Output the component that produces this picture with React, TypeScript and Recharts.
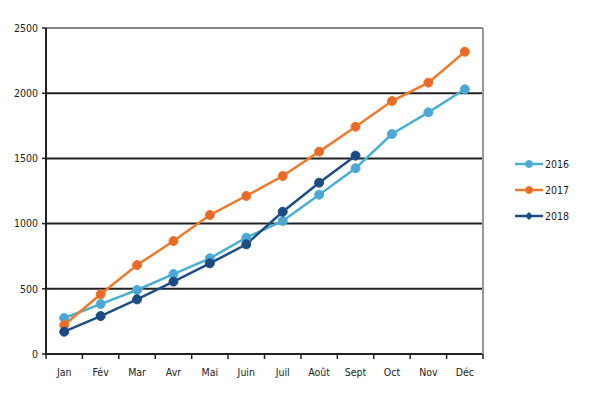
import { LineChart, Line, XAxis, YAxis, CartesianGrid, ReferenceLine } from "recharts";

const months = ["Jan", "Fév", "Mar", "Avr", "Mai", "Juin", "Juil", "Août", "Sept", "Oct", "Nov", "Déc"];
const values2016 = [276, 383, 491, 613, 734, 892, 1020, 1222, 1425, 1687, 1853, 2030];
const values2017 = [222, 458, 682, 866, 1066, 1212, 1365, 1552, 1743, 1940, 2081, 2318];
const values2018 = [171, 291, 419, 555, 695, 841, 1091, 1314, 1521, null, null, null];
const yTicks = [0, 500, 1000, 1500, 2000, 2500];

const data = months.map((m, i) => ({
  month: m,
  y2016: values2016[i],
  y2017: values2017[i],
  y2018: values2018[i],
}));

const FONT = "'Liberation Sans Narrow', 'DejaVu Sans Condensed', 'Liberation Sans', sans-serif";

const SERIES = [
  { key: "y2016", name: "2016", color: "#4BB0D0", dot: "#4DA6D6", shape: "circle" },
  { key: "y2017", name: "2017", color: "#EE7A2D", dot: "#E8692A", shape: "circle" },
  { key: "y2018", name: "2018", color: "#1F4E85", dot: "#1D4A80", shape: "diamond" },
];

// plot area is 437px wide, 12 categories
const HALF = 437 / 12 / 2;

function MonthTick(props: any) {
  const { x, y, payload, index } = props;
  return (
    <g>
      <line x1={x - HALF} y1={y - 8} x2={x - HALF} y2={y - 3} stroke="#222" strokeWidth={1.5} />
      {index === months.length - 1 && (
        <line x1={x + HALF} y1={y - 8} x2={x + HALF} y2={y - 3} stroke="#222" strokeWidth={1.5} />
      )}
      <text x={x} y={y + 14} textAnchor="middle" fontSize={10.5} fill="#222" fontFamily={FONT}>
        {payload.value}
      </text>
    </g>
  );
}

function LegendBox() {
  return (
    <div style={{ position: "absolute", left: 515, top: 151, fontFamily: FONT, fontSize: 10.5, color: "#222" }}>
      {SERIES.map((s) => (
        <div key={s.key} style={{ display: "flex", alignItems: "center", height: 26 }}>
          <svg width={29} height={10}>
            <line x1={0} y1={5} x2={28} y2={5} stroke={s.color} strokeWidth={2.5} />
            {s.shape === "circle" ? (
              <circle cx={14} cy={5} r={3.5} fill={s.dot} stroke={s.color} />
            ) : (
              <path d="M14 1 L18 5 L14 9 L10 5 Z" fill={s.dot} />
            )}
          </svg>
          <span style={{ marginLeft: 1 }}>{s.name}</span>
        </div>
      ))}
    </div>
  );
}

export default function App() {
  return (
    <div style={{ position: "absolute", left: 0, top: 0, width: 600, height: 400, background: "#fff" }}>
      <LineChart width={600} height={400} data={data} margin={{ top: 28, right: 116, bottom: 16, left: 0 }}>
        <CartesianGrid vertical={false} stroke="#222" strokeWidth={2} />
        <ReferenceLine y={2500} stroke="#888" strokeWidth={2} />
        <XAxis
          dataKey="month"
          height={30}
          padding={{ left: HALF, right: HALF }}
          tick={<MonthTick />}
          tickLine={false}
          axisLine={{ stroke: "#222", strokeWidth: 2 }}
          interval={0}
        />
        <YAxis
          width={46}
          domain={[0, 2500]}
          ticks={yTicks}
          tickSize={4}
          tickMargin={4}
          tickLine={{ stroke: "#222", strokeWidth: 1.5 }}
          axisLine={{ stroke: "#222", strokeWidth: 2 }}
          tick={{ fontSize: 10.5, fill: "#222", fontFamily: FONT }}
          interval={0}
        />
        <YAxis
          yAxisId="right"
          orientation="right"
          width={1}
          tick={false}
          tickLine={false}
          axisLine={{ stroke: "#999", strokeWidth: 2 }}
        />
        {SERIES.map((s) => (
          <Line
            key={s.key}
            dataKey={s.key}
            name={s.name}
            stroke={s.color}
            strokeWidth={2.5}
            dot={{ r: 4.5, fill: s.dot, stroke: s.color, strokeWidth: 1 }}
            activeDot={false}
            isAnimationActive={false}
          />
        ))}
      </LineChart>
      <LegendBox />
    </div>
  );
}
